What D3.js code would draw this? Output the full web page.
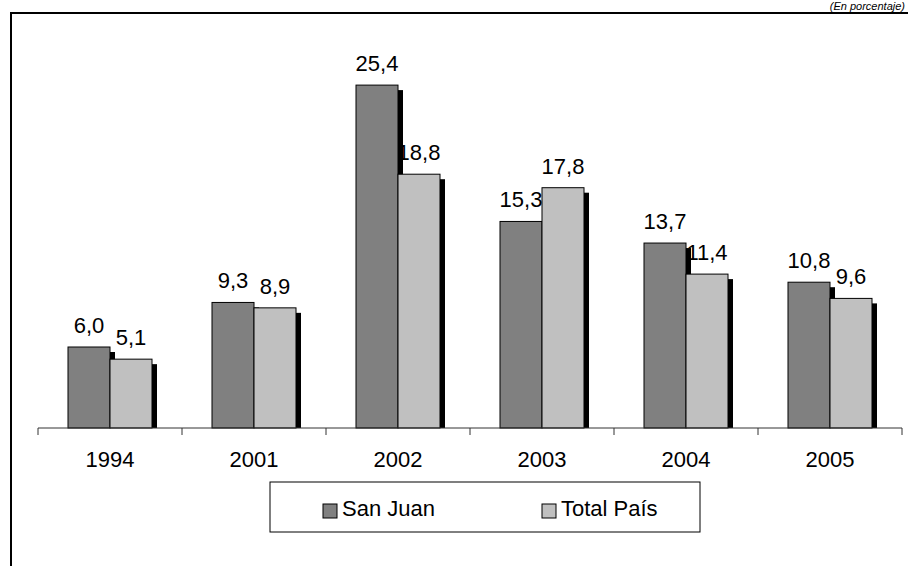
<!DOCTYPE html>
<html>
<head>
<meta charset="utf-8">
<script src="https://cdn.jsdelivr.net/npm/d3@7"></script>
<style>
  body { margin: 0; background: #fff; }
  svg { display: block; font-family: "Liberation Sans", Arial, sans-serif; }
</style>
</head>
<body>
<div id="chart"></div>
<script>
// data
var years = ['1994', '2001', '2002', '2003', '2004', '2005'];
var series = ['San Juan', 'Total País'];
var sanJuan = [6.0, 9.3, 25.4, 15.3, 13.7, 10.8];
var totalPais = [5.1, 8.9, 18.8, 17.8, 11.4, 9.6];
var colors = ['#808080', '#c0c0c0'];

var w = 908, h = 566,
    baseY = 428,
    fmt = function(v) { return d3.format('.1f')(v).replace('.', ','); };

var svg = d3.select('#chart').append('svg').attr('width', w).attr('height', h);

// outer frame (runs past right/bottom edges like the original crop)
svg.append('path').attr('d', 'M11,' + (h + 5) + 'V13H' + (w + 5))
  .attr('fill', 'none').attr('stroke', '#000').attr('stroke-width', 2);

// units note, top right
svg.append('text').attr('x', 905).attr('y', 10).attr('text-anchor', 'end')
  .style('font-size', '11px').style('font-style', 'italic')
  .text('(En porcentaje)');

var x0 = d3.scaleBand().domain(years).range([38, 902]);
var x1 = d3.scaleBand().domain(series).range([30, x0.bandwidth() - 30]);
var y = d3.scaleLinear().domain([0, 30]).range([baseY, 23]);

var rows = years.map(function(yr, i) {
  return {year: yr, values: [sanJuan[i], totalPais[i]]};
});

var groups = svg.selectAll('g.year').data(rows).enter().append('g').attr('class', 'year')
  .attr('transform', function(d) { return 'translate(' + x0(d.year) + ',0)'; });

var cells = function(d) {
  return d.values.map(function(v, k) { return {key: series[k], value: v, k: k}; });
};

// shadows first, so the next bar covers the previous bar's shadow
groups.each(function(d) {
  var g = d3.select(this);
  cells(d).forEach(function(c) {
    g.append('rect').attr('x', x1(c.key) + 5).attr('y', y(c.value) + 5)
      .attr('width', x1.bandwidth()).attr('height', baseY - y(c.value) - 5).attr('fill', '#000');
    g.append('rect').attr('x', x1(c.key)).attr('y', y(c.value))
      .attr('width', x1.bandwidth()).attr('height', baseY - y(c.value))
      .attr('fill', colors[c.k]).attr('stroke', '#000').attr('stroke-width', 1);
  });
});

groups.selectAll('text.val').data(cells).enter().append('text').attr('class', 'val')
  .attr('x', function(c) { return x1(c.key) + x1.bandwidth() / 2; })
  .attr('y', function(c) { return y(c.value) - 14; })
  .attr('text-anchor', 'middle').style('font-size', '22px').text(function(c) { return fmt(c.value); });

// x axis
var axis = svg.append('g').attr('transform', 'translate(0,' + baseY + ')');
axis.append('line').attr('x1', 38).attr('x2', 902).attr('stroke', '#333').attr('stroke-width', 1);
axis.selectAll('line.tick').data(years.concat(['end'])).enter().append('line').attr('class', 'tick')
  .attr('x1', function(d) { return d === 'end' ? 902 : x0(d); })
  .attr('x2', function(d) { return d === 'end' ? 902 : x0(d); })
  .attr('y1', 0).attr('y2', 7).attr('stroke', '#333');
axis.selectAll('text').data(years).enter().append('text')
  .attr('x', function(d) { return x0(d) + x0.bandwidth() / 2; }).attr('y', 39)
  .attr('text-anchor', 'middle').style('font-size', '22px').text(function(d) { return d; });

// legend
var leg = svg.append('g');
leg.append('rect').attr('x', 270).attr('y', 482).attr('width', 430).attr('height', 50)
  .attr('fill', '#fff').attr('stroke', '#000').attr('stroke-width', 1);
var legX = [323, 542];
series.forEach(function(s, k) {
  leg.append('rect').attr('x', legX[k]).attr('y', 504).attr('width', 14).attr('height', 14)
    .attr('fill', colors[k]).attr('stroke', '#000');
  leg.append('text').attr('x', legX[k] + 19).attr('y', 516).style('font-size', '22px').text(s);
});
</script>
</body>
</html>
